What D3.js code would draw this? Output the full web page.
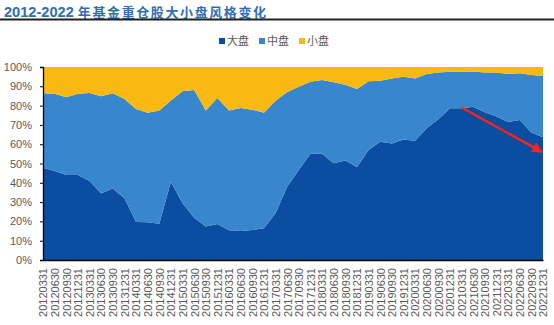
<!DOCTYPE html>
<html><head><meta charset="utf-8">
<script src="https://cdn.jsdelivr.net/npm/d3@7"></script>
<style>
body{margin:0;background:#fff;}
svg{display:block;}
</style></head>
<body>
<svg id="c" width="554" height="325"></svg>
<script>
const dates = ["20120331","20120630","20120930","20121231","20130331","20130630","20130930","20131231",
"20140331","20140630","20140930","20141231","20150331","20150630","20150930","20151231",
"20160331","20160630","20160930","20161231","20170331","20170630","20170930","20171231",
"20180331","20180630","20180930","20181231","20190331","20190630","20190930","20191231",
"20200331","20200630","20200930","20201231","20210331","20210630","20210930","20211231",
"20220331","20220630","20220930","20221231"];
const large = [47.8,46.1,44.0,44.0,40.9,34.5,37.1,32.0,19.7,19.6,18.8,40.6,29.4,21.9,17.3,18.7,
15.4,15.0,15.5,16.4,24.2,38.0,46.6,55.1,55.1,50.1,51.5,48.0,57.0,61.3,60.4,62.5,61.8,68.2,72.9,78.6,
78.6,79.4,76.5,74.3,71.5,72.5,66.0,63.6];
const mid = [38.6,40.1,40.3,42.2,45.6,50.3,49.3,51.4,58.5,56.7,58.6,42.1,58.0,66.2,60.1,65.2,
62.0,63.8,62.4,59.9,58.3,49.0,43.2,37.3,38.2,42.0,39.3,40.6,35.6,31.6,33.7,32.5,32.3,28.2,24.2,19.0,
18.8,18.3,20.7,22.9,24.9,24.2,29.9,31.7];
const small = [13.6,13.8,15.7,13.8,13.5,15.2,13.6,16.6,21.8,23.7,22.6,17.3,12.6,11.9,22.6,16.1,
22.6,21.2,22.1,23.7,17.5,13.0,10.2,7.6,6.7,7.9,9.2,11.4,7.4,7.1,5.9,5.0,5.9,3.6,2.9,2.4,
2.6,2.3,2.8,2.8,3.6,3.3,4.1,4.7];
const seriesNames = ["大盘","中盘","小盘"];
const yTicks = [0,10,20,30,40,50,60,70,80,90,100];
const title = "2012-2022 年基金重仓股大小盘风格变化";
const arrowFrom = ["20210331", 79];
const arrowTo = ["20221231", 56];

const colors = ["#0B4DA0","#3886CD","#FAB812"];
const svg = d3.select("#c");
const L = 43, R = 543, T = 67, B = 260;

const x = d3.scalePoint().domain(dates).range([L, R]);
const y = d3.scaleLinear().domain([0,100]).range([B, T]);

// title
const tt = svg.append("text").attr("x",4).attr("y",16.5).attr("fill","#2F6DB5").attr("font-weight","bold");
tt.append("tspan").attr("font-family","Liberation Sans, Arial, sans-serif").attr("font-size",14.6).text("2012-2022 ");
tt.append("tspan").attr("font-family","Noto Sans CJK SC").attr("font-size",13).attr("letter-spacing",1.6)
  .text(title.replace("2012-2022 ",""));
svg.append("line").attr("x1",0).attr("x2",554).attr("y1",19.5).attr("y2",19.5).attr("stroke","#222").attr("stroke-width",2);

// stack
const rows = dates.map((d,i)=>({date:d, "大盘":large[i], "中盘":mid[i], "小盘":small[i]}));
const stack = d3.stack().keys(seriesNames)(rows);
const area = d3.area().x(d=>x(d.data.date)).y0(d=>y(d[0])).y1(d=>y(d[1]));
svg.append("g").selectAll("path").data(stack).join("path")
  .attr("d", area).attr("fill",(d,i)=>colors[i]);

// y axis
const ya = svg.append("g").attr("transform",`translate(${L},0)`)
  .call(d3.axisLeft(y).tickValues(yTicks).tickFormat(d=>d+"%").tickSize(3).tickPadding(8));
ya.select(".domain").attr("stroke","#000").attr("stroke-width",1.3);
ya.selectAll(".tick line").attr("stroke","#000");
ya.selectAll("text").attr("font-family","Liberation Sans, Arial, sans-serif").attr("font-size",11).attr("fill","#595959");

// x axis
const xa = svg.append("g").attr("transform",`translate(0,${B})`)
  .call(d3.axisBottom(x).tickSize(0).tickPadding(0));
xa.select(".domain").attr("stroke","#000").attr("stroke-width",1.5);
xa.selectAll("text").attr("font-family","Liberation Sans, Arial, sans-serif").attr("font-size",11).attr("fill","#595959")
  .attr("text-anchor","end").attr("transform","rotate(-90)").attr("x",-8).attr("y",0).attr("dy","0.35em");

// legend
const lg = svg.append("g").attr("transform","translate(219,41)");
let lx = 0;
seriesNames.forEach((n,i)=>{
  lg.append("rect").attr("x",lx).attr("y",-3).attr("width",6).attr("height",6).attr("fill",colors[i]);
  lg.append("text").attr("x",lx+8).attr("y",0).attr("dy","0.36em").attr("font-family","Noto Sans CJK SC")
    .attr("font-size",11).attr("fill","#595959").text(n);
  lx += 40;
});

// arrow
const defs = svg.append("defs");
defs.append("marker").attr("id","ah").attr("viewBox","0 0 10 10").attr("refX",9).attr("refY",5)
  .attr("markerWidth",5.5).attr("markerHeight",4.5).attr("orient","auto").attr("markerUnits","strokeWidth")
  .append("path").attr("d","M0,0 L10,5 L0,10 z").attr("fill","#FF2218");
svg.append("line").attr("x1",x(arrowFrom[0])).attr("y1",y(arrowFrom[1]))
  .attr("x2",x(arrowTo[0])-1).attr("y2",y(arrowTo[1]))
  .attr("stroke","#FF2218").attr("stroke-width",2.4).attr("marker-end","url(#ah)");
</script>
</body></html>
